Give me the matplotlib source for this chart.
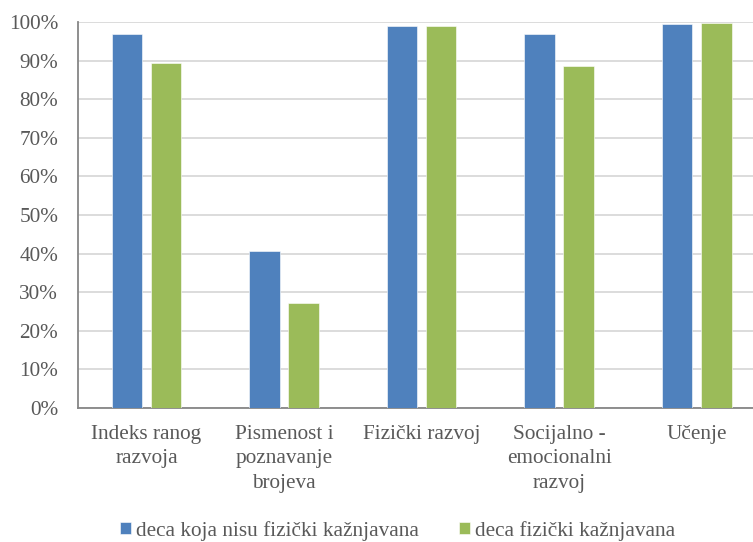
import matplotlib.pyplot as plt
import numpy as np

categories = ["Indeks ranog\nrazvoja", "Pismenost i\npoznavanje\nbrojeva", "Fizički razvoj",
              "Socijalno -\nemocionalni\nrazvoj", "Učenje"]
not_punished = [96.8, 40.8, 99.0, 97.0, 99.4]
punished = [89.4, 27.3, 98.9, 88.5, 99.8]
series_names = ["deca koja nisu fizički kažnjavana", "deca fizički kažnjavana"]
yticks = list(range(0, 101, 10))

plt.rcParams["font.family"] = ["Liberation Serif", "DejaVu Serif"]
TXT = "#595959"
FS = 15.3

fig = plt.figure(figsize=(7.53, 5.42), dpi=100)
# plot area runs past the right edge of the image, as in the original
ax = fig.add_axes([77.7 / 753, 134 / 542, 687.8 / 753, 386 / 542])

x = np.arange(len(categories))
w = 0.222
ax.bar(x - 0.1425, not_punished, w, color="#4F81BD", edgecolor="white", linewidth=0.4,
       label=series_names[0], zorder=3)
ax.bar(x + 0.1425, punished, w, color="#9BBB59", edgecolor="white", linewidth=0.4,
       label=series_names[1], zorder=3)

ax.set_xlim(-0.5, len(categories) - 0.5)
ax.set_ylim(0, 100)
ax.set_yticks(yticks)
ax.set_yticklabels([f"{t}%" for t in yticks])
ax.set_xticks(x)
ax.set_xticklabels(categories, linespacing=1.4)
ax.tick_params(axis="y", length=0, pad=14, labelsize=FS, labelcolor=TXT)
ax.tick_params(axis="x", length=0, pad=12, labelsize=FS, labelcolor=TXT)

ax.grid(axis="y", color="#D9D9D9", linewidth=1.3, zorder=0)
for s in ["top", "right"]:
    ax.spines[s].set_visible(False)
for s in ["left", "bottom"]:
    ax.spines[s].set_color("#868686")
    ax.spines[s].set_linewidth(1.3)

fig.legend(loc="center", bbox_to_anchor=(0.528, 0.021), ncol=2, frameon=False,
           fontsize=FS, labelcolor=TXT, handlelength=0.5, handleheight=0.5,
           handletextpad=0.25, columnspacing=1.9)

fig.savefig("out.png", dpi=100)
